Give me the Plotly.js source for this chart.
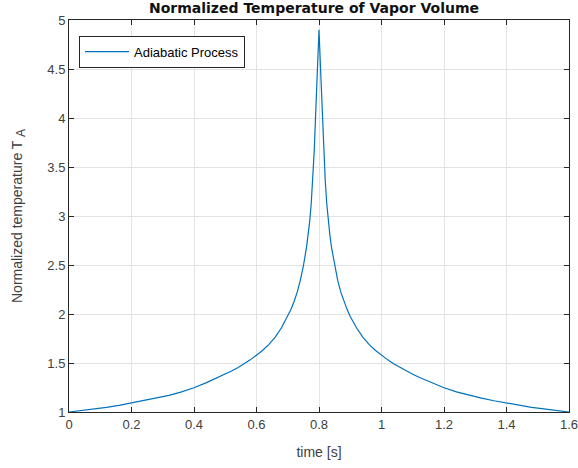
<!DOCTYPE html>
<html>
<head>
<meta charset="utf-8">
<script src="https://cdn.plot.ly/plotly-3.0.1.min.js"></script>
<style>html,body{margin:0;padding:0;background:#fff;}#chart{width:578px;height:468px;}</style>
</head>
<body>
<div id="chart"></div>
<script>
// time [s]
var timeS = [0, 0.04, 0.08, 0.12, 0.16, 0.2, 0.24, 0.28, 0.32, 0.36,
  0.4, 0.44, 0.48, 0.5, 0.52, 0.54, 0.56, 0.58, 0.6, 0.62,
  0.64, 0.66, 0.68, 0.70, 0.71, 0.72, 0.73, 0.74, 0.75, 0.76,
  0.765, 0.77, 0.775, 0.78, 0.785, 0.79, 0.795, 0.8,
  0.805, 0.81, 0.815, 0.82, 0.825, 0.83, 0.835, 0.84, 0.85, 0.86,
  0.87, 0.88, 0.89, 0.9, 0.92, 0.94, 0.96, 0.98, 1.0, 1.02,
  1.04, 1.06, 1.08, 1.1, 1.12, 1.16, 1.2, 1.24, 1.28, 1.32,
  1.36, 1.4, 1.44, 1.48, 1.52, 1.56, 1.6];
// normalized temperature T_A
var tempA = [1.000, 1.015, 1.031, 1.048, 1.068, 1.092, 1.115, 1.141, 1.170, 1.205,
  1.248, 1.30, 1.355, 1.385, 1.418, 1.452, 1.49, 1.532, 1.58, 1.63,
  1.69, 1.765, 1.86, 1.975, 2.045, 2.125, 2.22, 2.34, 2.49, 2.68,
  2.80, 2.94, 3.12, 3.36, 3.68, 4.10, 4.50, 4.90,
  4.50, 4.10, 3.68, 3.36, 3.12, 2.94, 2.80, 2.68, 2.49, 2.34,
  2.22, 2.125, 2.045, 1.975, 1.86, 1.765, 1.69, 1.63, 1.58, 1.532,
  1.49, 1.452, 1.418, 1.385, 1.355, 1.30, 1.248, 1.205, 1.170, 1.141,
  1.115, 1.092, 1.068, 1.048, 1.031, 1.015, 1.000];
var xTicks = [0, 0.2, 0.4, 0.6, 0.8, 1, 1.2, 1.4, 1.6];
var xTickText = ["0", "0.2", "0.4", "0.6", "0.8", "1", "1.2", "1.4", "1.6"];
var yTicks = [1, 1.5, 2, 2.5, 3, 3.5, 4, 4.5, 5];
var yTickText = ["1", "1.5", "2", "2.5", "3", "3.5", "4", "4.5", "5"];
var seriesName = "Adiabatic Process";
var chartTitle = "Normalized Temperature of Vapor Volume";
var xLabel = "time [s]";
var yLabel = "Normalized temperature T <sub><span style=\"font-size:12px\">A</span></sub>";

var axisColor = "#262626";
var baseFont = "Liberation Sans, Arial, sans-serif";
var tickFont = {family: baseFont, size: 13, color: "#404040"};

var trace = {
  x: timeS, y: tempA, type: "scatter", mode: "lines", name: seriesName,
  line: {color: "#0072BD", width: 1.2}
};

var layout = {
  width: 578, height: 468,
  margin: {l: 69, r: 9, t: 20, b: 56},
  paper_bgcolor: "#fff", plot_bgcolor: "#fff",
  showlegend: true,
  title: {text: "<b>" + chartTitle + "</b>", font: {family: "DejaVu Sans, sans-serif", size: 14, color: "#111"},
          x: 0.49, xref: "paper", xanchor: "center", y: 1 - 8/468, yref: "container", yanchor: "middle"},
  xaxis: {
    range: [0, 1.6], tickmode: "array", tickvals: xTicks, ticktext: xTickText,
    ticks: "inside", ticklen: 5, tickcolor: axisColor, ticklabeloverflow: "allow",
    showline: true, linecolor: axisColor, linewidth: 1, mirror: "ticks",
    showgrid: true, gridcolor: "#e3e3e3", gridwidth: 1, zeroline: false,
    tickfont: tickFont,
    title: {text: xLabel, font: {family: baseFont, size: 14, color: "#404040"}, standoff: 16}
  },
  yaxis: {
    range: [1, 5], tickmode: "array", tickvals: yTicks, ticktext: yTickText,
    ticks: "inside", ticklen: 5, tickcolor: axisColor,
    showline: true, linecolor: axisColor, linewidth: 1, mirror: "ticks",
    showgrid: true, gridcolor: "#e3e3e3", gridwidth: 1, zeroline: false,
    tickfont: tickFont,
    title: {text: yLabel, font: {family: baseFont, size: 14, color: "#404040"}, standoff: 21}
  },
  legend: {
    x: 0.02, y: 0.96, xanchor: "left", yanchor: "top",
    bgcolor: "#fff", bordercolor: axisColor, borderwidth: 1,
    font: {family: baseFont, size: 13, color: "#000"},
    itemwidth: 44, tracegroupgap: 0
  }
};

Plotly.newPlot("chart", [trace], layout, {displayModeBar: false, staticPlot: true});
</script>
</body>
</html>
